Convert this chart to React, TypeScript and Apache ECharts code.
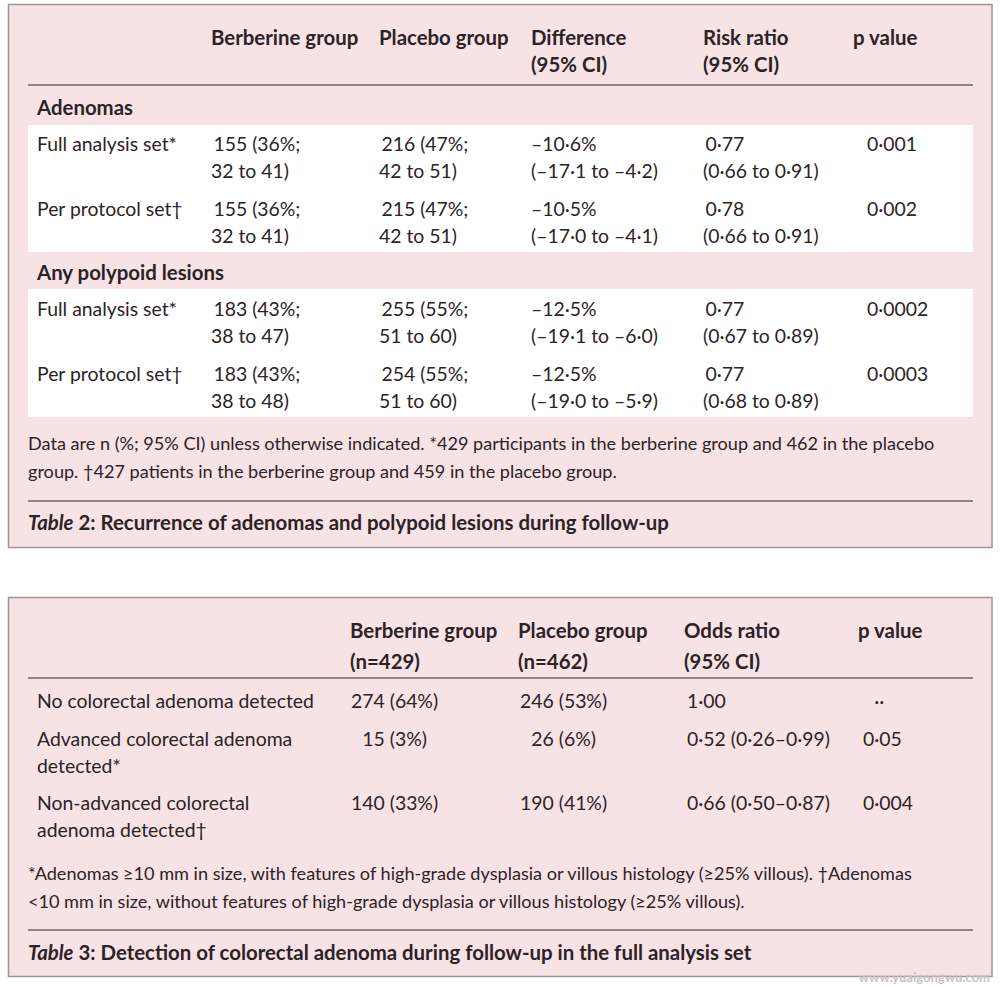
import React, { useEffect, useRef } from "react";
import * as echarts from "echarts";

// ---------- DATA ----------
const t2HeaderLine1 = ["Berberine group", "Placebo group", "Difference", "Risk ratio", "p value"];
const t2HeaderLine2 = ["", "", "(95% CI)", "(95% CI)", ""];
const t2Sections = ["Adenomas", "Any polypoid lesions"];
const t2RowLabels = ["Full analysis set*", "Per protocol set\u2020"];
const adenomaFull = ["\u2009155 (36%;\n32 to 41)", "\u2009216 (47%;\n42 to 51)", "\u201310\u00b76%\n(\u201317\u00b71 to \u20134\u00b72)", "\u20090\u00b777\n(0\u00b766 to 0\u00b791)", "0\u00b7001"];
const adenomaPerProtocol = ["\u2009155 (36%;\n32 to 41)", "\u2009215 (47%;\n42 to 51)", "\u201310\u00b75%\n(\u201317\u00b70 to \u20134\u00b71)", "\u20090\u00b778\n(0\u00b766 to 0\u00b791)", "0\u00b7002"];
const polypoidFull = ["\u2009183 (43%;\n38 to 47)", "\u2009255 (55%;\n51 to 60)", "\u201312\u00b75%\n(\u201319\u00b71 to \u20136\u00b70)", "\u20090\u00b777\n(0\u00b767 to 0\u00b789)", "0\u00b70002"];
const polypoidPerProtocol = ["\u2009183 (43%;\n38 to 48)", "\u2009254 (55%;\n51 to 60)", "\u201312\u00b75%\n(\u201319\u00b70 to \u20135\u00b79)", "\u20090\u00b777\n(0\u00b768 to 0\u00b789)", "0\u00b70003"];
const t2Footnote = [
  "Data are n (%; 95% CI) unless otherwise indicated. *429 participants in the berberine group and 462 in the placebo",
  "group. \u2020427 patients in the berberine group and 459 in the placebo group.",
];
const t2CaptionLabel = ["Table", "2:"];
const t2CaptionText = "Recurrence of adenomas and polypoid lesions during follow-up";

const t3HeaderLine1 = ["Berberine group", "Placebo group", "Odds ratio", "p value"];
const t3HeaderLine2 = ["(n=429)", "(n=462)", "(95% CI)", ""];
const t3RowLabels = ["No colorectal adenoma detected", "Advanced colorectal adenoma\ndetected*", "Non-advanced colorectal\nadenoma detected\u2020"];
const t3Berberine = ["274 (64%)", "\u200715 (3%)", "140 (33%)"];
const t3Placebo = ["246 (53%)", "\u200726 (6%)", "190 (41%)"];
const t3OddsRatio = ["1\u00b700", "0\u00b752 (0\u00b726\u20130\u00b799)", "0\u00b766 (0\u00b750\u20130\u00b787)"];
const t3PValue = ["\u2007\u00b7\u00b7", "0\u00b705", "0\u00b7004"];
const t3Footnote = [
  "*Adenomas \u226510 mm in size, with features of high-grade dysplasia or villous histology (\u226525% villous). \u2020Adenomas",
  "<10 mm in size, without features of high-grade dysplasia or villous histology (\u226525% villous).",
];
const t3CaptionLabel = ["Table", "3:"];
const t3CaptionText = "Detection of colorectal adenoma during follow-up in the full analysis set";
const watermark = "www.yuaigongwu.com";

// ---------- STYLE / LAYOUT ----------
const FONT = 'Lato, "Open Sans", "DejaVu Sans", sans-serif';
const INK = "#2b2326";
const PINK = "#f7e2e6";
const BORDER = "#9c9596";
const RULE = "#6f6466";
const SIZE = 19.4;
const BOLD = 20.4;
const FOOT = 18.1;

function buildElements() {
  const els: any[] = [];
  const text = (x: number, y: number, t: string, o: any = {}) => {
    els.push({
      type: "text",
      x,
      y,
      silent: true,
      style: {
        text: t,
        fill: INK,
        fontFamily: FONT,
        fontSize: o.size || (o.bold ? BOLD : SIZE),
        fontWeight: o.bold ? "bold" : "normal",
        align: "left",
        verticalAlign: "middle",
      },
    });
  };
  const multi = (x: number, y: number, t: string, lh: number, o: any = {}) => {
    t.split("\n").forEach((line, i) => text(x, y + i * lh, line, o));
  };
  const rect = (x: number, y: number, w: number, h: number, fill: string, stroke?: string) => {
    els.push({
      type: "rect",
      silent: true,
      shape: { x, y, width: w, height: h },
      style: { fill, stroke: stroke || "none", lineWidth: stroke ? 1.5 : 0 },
    });
  };
  const hline = (x1: number, x2: number, y: number) => {
    els.push({
      type: "line",
      silent: true,
      shape: { x1, y1: y, x2, y2: y },
      style: { stroke: RULE, lineWidth: 1.3 },
    });
  };
  const caption = (x: number, y: number, label: string[], rest: string) => {
    els.push({
      type: "text",
      x,
      y,
      silent: true,
      style: {
        text: `{i|${label[0]}} {b|${label[1]} ${rest}}`,
        fill: INK,
        fontFamily: FONT,
        fontSize: BOLD,
        fontWeight: "bold",
        verticalAlign: "middle",
        rich: {
          i: { fontFamily: FONT, fontSize: BOLD, fontWeight: "bold", fontStyle: "italic", fill: INK },
          b: { fontFamily: FONT, fontSize: BOLD, fontWeight: "bold", fill: INK },
        },
      },
    });
  };

  const innerL = 28;
  const innerR = 973;
  const labelX = 37;

  // ---------- Table 2 ----------
  rect(8.5, 4.5, 983.5, 543, PINK, BORDER);
  const h2x = [211, 379, 531, 703, 853];
  const v2x = [211, 379, 531, 703, 867];
  t2HeaderLine1.forEach((h, i) => text(h2x[i], 37, h, { bold: true }));
  t2HeaderLine2.forEach((h, i) => h && text(h2x[i], 64, h, { bold: true }));
  hline(innerL, innerR, 85);

  const bands = [
    { top: 125, bottom: 252, title: 107, rows: [adenomaFull, adenomaPerProtocol], rowY: [143, 208] },
    { top: 289, bottom: 417, title: 272, rows: [polypoidFull, polypoidPerProtocol], rowY: [308, 373] },
  ];
  bands.forEach((b, s) => {
    text(labelX, b.title, t2Sections[s], { bold: true });
    rect(innerL, b.top, innerR - innerL, b.bottom - b.top, "#ffffff");
    b.rows.forEach((row, r) => {
      text(labelX, b.rowY[r], t2RowLabels[r]);
      row.forEach((cell, c) => multi(v2x[c], b.rowY[r], cell, 27.5));
    });
  });
  t2Footnote.forEach((l, i) => text(innerL, 443 + i * 28, l, { size: FOOT }));
  hline(innerL, innerR, 501);
  caption(innerL, 522, t2CaptionLabel, t2CaptionText);

  // ---------- Table 3 ----------
  rect(8.5, 597.5, 983.5, 379, PINK, BORDER);
  const h3x = [350, 518, 684, 858];
  const v3x = [351, 520, 687, 863];
  t3HeaderLine1.forEach((h, i) => text(h3x[i], 630, h, { bold: true }));
  t3HeaderLine2.forEach((h, i) => h && text(h3x[i], 661, h, { bold: true }));
  hline(innerL, innerR, 678);
  const r3y = [700, 738, 802];
  t3RowLabels.forEach((l, r) => {
    multi(labelX, r3y[r], l, 27.5);
    [t3Berberine, t3Placebo, t3OddsRatio, t3PValue].forEach((col, c) => text(v3x[c], r3y[r], col[r]));
  });
  t3Footnote.forEach((l, i) => text(innerL, 873 + i * 28, l, { size: FOOT }));
  hline(innerL, innerR, 930);
  caption(innerL, 952, t3CaptionLabel, t3CaptionText);

  els.push({
    type: "text",
    x: 990,
    y: 977,
    silent: true,
    style: {
      text: watermark,
      fill: "#c9c2c3",
      fontFamily: FONT,
      fontSize: 13,
      fontWeight: "bold",
      align: "right",
      verticalAlign: "middle",
    },
  });
  return els;
}

export default function App() {
  const ref = useRef<HTMLDivElement>(null);
  useEffect(() => {
    if (!ref.current) return;
    const chart = echarts.init(ref.current, undefined, { renderer: "svg" });
    chart.setOption({
      animation: false,
      backgroundColor: "#ffffff",
      graphic: { elements: buildElements() },
    });
    return () => chart.dispose();
  }, []);
  return (
    <div
      ref={ref}
      style={{ position: "absolute", left: 0, top: 0, width: 1000, height: 987 }}
    />
  );
}
